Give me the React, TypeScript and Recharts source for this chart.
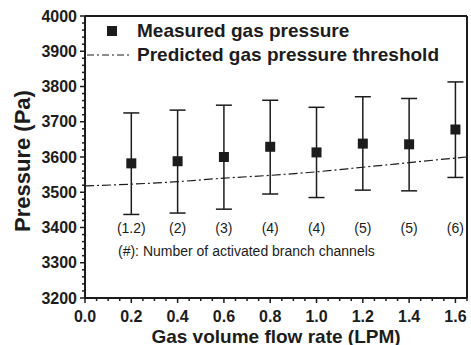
import React from 'react';
import {
  ComposedChart,
  Scatter,
  Line,
  XAxis,
  YAxis,
  ErrorBar,
  ReferenceLine,
} from 'recharts';

const flowRates = [0.2, 0.4, 0.6, 0.8, 1.0, 1.2, 1.4, 1.6];
const measured = [3582, 3588, 3600, 3629, 3613, 3638, 3636, 3678];
const upperBound = [3725, 3733, 3747, 3761, 3741, 3771, 3766, 3813];
const lowerBound = [3437, 3441, 3452, 3495, 3485, 3506, 3504, 3542];
const channelLabels = ['(1.2)', '(2)', '(3)', '(4)', '(4)', '(5)', '(5)', '(6)'];
const labelRow = 3399;

const thresholdRates = [0, 0.2, 0.4, 0.6, 0.8, 1.0, 1.2, 1.4, 1.6, 1.65];
const thresholdValues = [3518, 3523, 3530, 3540, 3548, 3558, 3571, 3584, 3597, 3600];

const yMajor = [3200, 3300, 3400, 3500, 3600, 3700, 3800, 3900, 4000];
const xMajor = [0, 0.2, 0.4, 0.6, 0.8, 1.0, 1.2, 1.4, 1.6];
const xMax = 1.65;
const yMin = 3200;
const yMax = 4000;

const FONT = '"Liberation Sans", Arial, sans-serif';
const INK = '#1c1c1c';

const measuredData = flowRates.map((x, i) => ({
  x,
  y: measured[i],
  err: [measured[i] - lowerBound[i], upperBound[i] - measured[i]],
}));
const labelData = flowRates.map((x, i) => ({ x, y: labelRow, label: channelLabels[i] }));
const thresholdData = thresholdRates.map((x, i) => ({ x, t: thresholdValues[i] }));

// minor ticks: every 20 Pa, every 0.05 LPM
const yTicks: number[] = [];
for (let v = yMin; v <= yMax; v += 20) yTicks.push(v);
const xTicks: number[] = [];
for (let i = 0; i <= 33; i++) xTicks.push(Math.round(i * 5) / 100);

const isMajorY = (v: number) => yMajor.includes(v);
const isMajorX = (v: number) => xMajor.some((m) => Math.abs(m - v) < 1e-6);

const LeftTick = ({ x, y, payload }: any) => {
  const major = isMajorY(payload.value);
  return (
    <g>
      <line x1={x} x2={x - (major ? 5 : 3)} y1={y} y2={y} stroke={INK} strokeWidth={1.5} />
      {major && (
        <text x={x - 8} y={y} textAnchor="end" dominantBaseline="central"
          fontFamily={FONT} fontWeight="bold" fontSize={16} fill={INK}>
          {payload.value}
        </text>
      )}
    </g>
  );
};

const BottomTick = ({ x, y, payload }: any) => {
  const major = isMajorX(payload.value);
  return (
    <g>
      <line x1={x} x2={x} y1={y} y2={y + (major ? 5 : 3)} stroke={INK} strokeWidth={1.5} />
      {major && (
        <text x={x} y={y + 18} textAnchor="middle" dominantBaseline="central"
          fontFamily={FONT} fontWeight="bold" fontSize={16} fill={INK}>
          {payload.value.toFixed(1)}
        </text>
      )}
    </g>
  );
};

const SquareDot = ({ cx, cy }: any) => (
  <rect x={cx - 5} y={cy - 5} width={10} height={10} fill={INK} />
);

const ChannelText = ({ cx, cy, payload }: any) => (
  <text x={cx} y={cy} textAnchor="middle" dominantBaseline="central"
    fontFamily={FONT} fontSize={14} fill={INK}>
    {payload.label}
  </text>
);

const YTitle = ({ viewBox }: any) => {
  const cy = viewBox.y + viewBox.height / 2 + 4;
  return (
    <text x={22} y={cy} transform={`rotate(-90 22 ${cy})`} textAnchor="middle"
      dominantBaseline="central" fontFamily={FONT} fontWeight="bold" fontSize={22} fill={INK}>
      Pressure (Pa)
    </text>
  );
};

const XTitle = ({ viewBox }: any) => (
  <text x={viewBox.x + viewBox.width / 2} y={336} textAnchor="middle"
    dominantBaseline="central" fontFamily={FONT} fontWeight="bold" fontSize={19} fill={INK}>
    Gas volume flow rate (LPM)
  </text>
);

const LegendBox = () => (
  <div style={{
    position: 'absolute', left: 85, top: 19, fontFamily: FONT, fontWeight: 'bold',
    fontSize: 19, color: INK, lineHeight: '24px', whiteSpace: 'nowrap',
  }}>
    <div style={{ display: 'flex', alignItems: 'center', height: 24 }}>
      <div style={{ width: 52, display: 'flex', justifyContent: 'center' }}>
        <div style={{ width: 10, height: 10, background: INK, marginLeft: 2 }} />
      </div>
      <span>Measured gas pressure</span>
    </div>
    <div style={{ display: 'flex', alignItems: 'center', height: 24 }}>
      <svg width={52} height={4}>
        <line x1={2} x2={46} y1={2} y2={2} stroke={INK} strokeWidth={1.2} strokeDasharray="7 3 2 3" />
      </svg>
      <span>Predicted gas pressure threshold</span>
    </div>
  </div>
);

export default function App() {
  return (
    <div style={{ position: 'absolute', left: 0, top: 0, width: 471, height: 345, background: '#fff' }}>
      <ComposedChart width={471} height={345} margin={{ top: 16, right: 4, left: 0, bottom: 0 }}>
        <XAxis
          type="number"
          dataKey="x"
          domain={[0, xMax]}
          ticks={xTicks}
          interval={0}
          tick={<BottomTick />}
          tickLine={false}
          tickSize={0}
          tickMargin={0}
          height={47}
          axisLine={{ stroke: INK, strokeWidth: 2 }}
          label={<XTitle />}
          allowDataOverflow
        />
        <YAxis
          type="number"
          domain={[yMin, yMax]}
          ticks={yTicks}
          interval={0}
          tick={<LeftTick />}
          tickLine={false}
          tickSize={0}
          tickMargin={0}
          width={85}
          axisLine={{ stroke: INK, strokeWidth: 2 }}
          label={<YTitle />}
          allowDataOverflow
        />
        {/* plot frame: top and right edges */}
        <ReferenceLine y={yMax} stroke={INK} strokeWidth={2} ifOverflow="visible" />
        <ReferenceLine x={xMax} stroke={INK} strokeWidth={2} ifOverflow="visible" />
        <Line
          data={thresholdData}
          dataKey="t"
          type="monotone"
          stroke={INK}
          strokeWidth={1.2}
          strokeDasharray="9 3 2 3"
          dot={false}
          activeDot={false}
          isAnimationActive={false}
        />
        <Scatter data={measuredData} dataKey="y" shape={<SquareDot />} isAnimationActive={false}>
          <ErrorBar dataKey="err" direction="y" width={8} stroke={INK} strokeWidth={1.5} />
        </Scatter>
        <Scatter data={labelData} dataKey="y" shape={<ChannelText />} isAnimationActive={false} />
      </ComposedChart>
      <LegendBox />
      <div style={{
        position: 'absolute', left: 118, top: 243, fontFamily: FONT, fontSize: 14, color: INK,
        whiteSpace: 'nowrap', lineHeight: '16px',
      }}>
        (#): Number of activated branch channels
      </div>
    </div>
  );
}
